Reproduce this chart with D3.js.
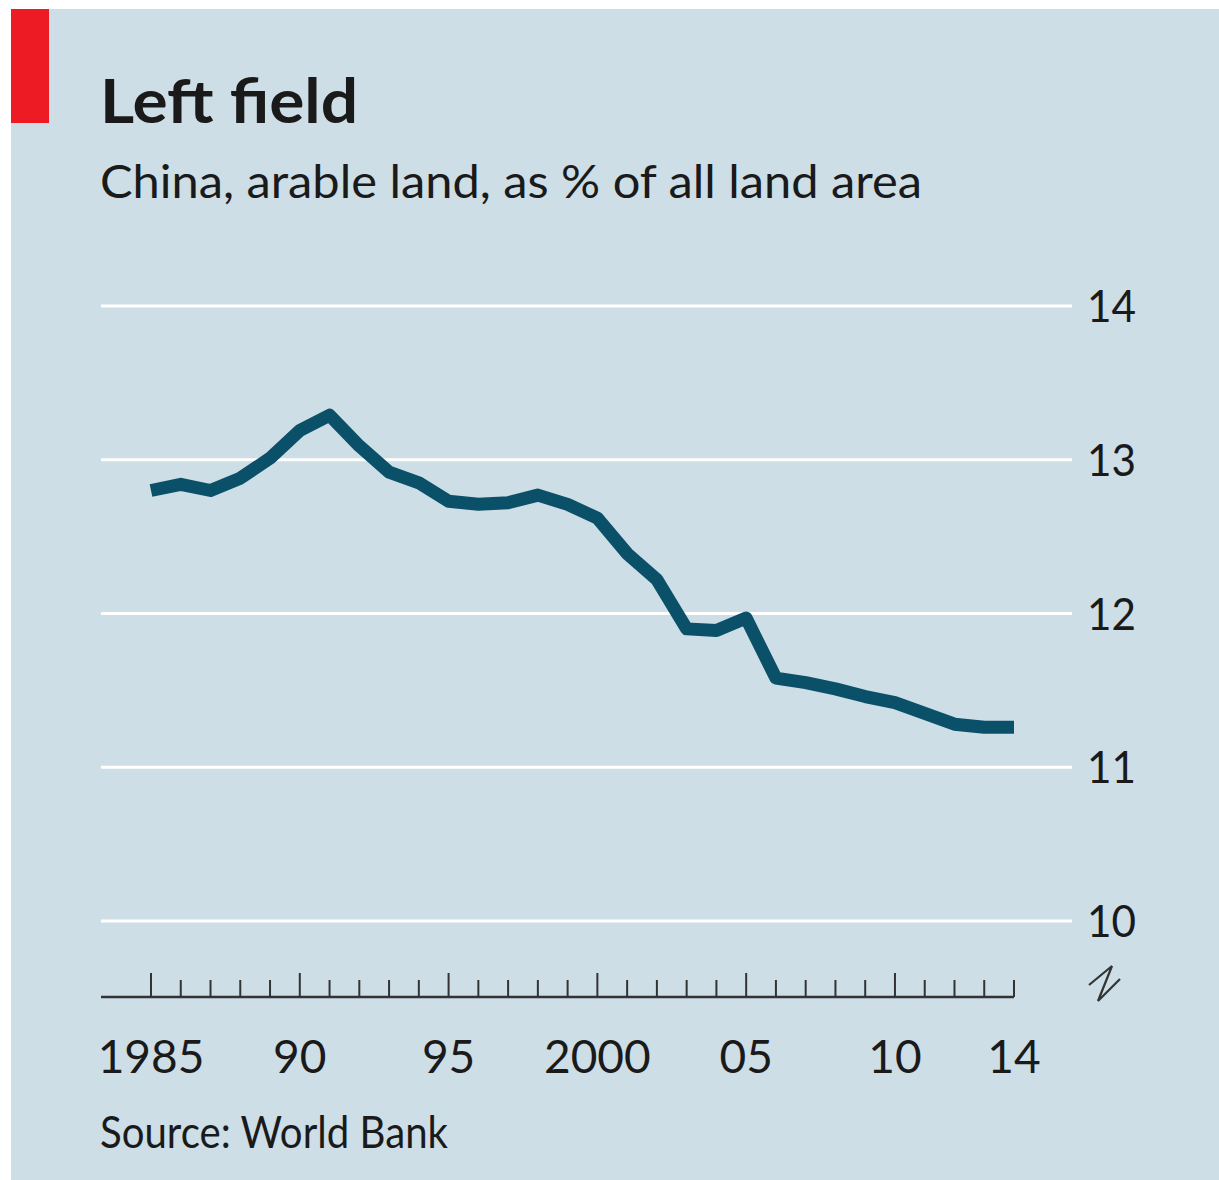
<!DOCTYPE html>
<html>
<head>
<meta charset="utf-8">
<script src="https://cdn.jsdelivr.net/npm/d3@7"></script>
<style>
	html, body { margin: 0; padding: 0; background: #ffffff; }
	svg text { font-family: Lato, "Noto Sans", sans-serif; fill: #1a1a1a; }
</style>
</head>
<body>
<div id="chart"></div>
<script>
	// arable land, % of all land area
	var years = [1985, 1986, 1987, 1988, 1989, 1990, 1991, 1992, 1993, 1994,
		1995, 1996, 1997, 1998, 1999, 2000, 2001, 2002, 2003, 2004,
		2005, 2006, 2007, 2008, 2009, 2010, 2011, 2012, 2013, 2014];
	var values = [12.80, 12.84, 12.80, 12.88, 13.01, 13.19, 13.29, 13.09, 12.92, 12.85,
		12.73, 12.71, 12.72, 12.77, 12.71, 12.62, 12.39, 12.22, 11.90, 11.89,
		11.97, 11.58, 11.55, 11.51, 11.46, 11.42, 11.35, 11.28, 11.26, 11.26];
	var yTicks = [10, 11, 12, 13, 14];
	var xLabelYears = [1985, 1990, 1995, 2000, 2005, 2010, 2014];
	var xLabels = ['1985', '90', '95', '2000', '05', '10', '14'];

	var title = 'Left field';
	var subtitle = 'China, arable land, as % of all land area';
	var source = 'Source: World Bank';

	var W = 1219, H = 1180;
	var margin = {top: 306, right: 205, bottom: 259, left: 151};

	var svg = d3.select('#chart')
		.append('svg')
		.attr('width', W)
		.attr('height', H);

	// panel
	svg.append('rect')
		.attr('x', 11).attr('y', 9)
		.attr('width', W - 11).attr('height', H - 9)
		.attr('fill', '#cddee7');
	svg.append('rect')
		.attr('x', 11).attr('y', 9)
		.attr('width', 38).attr('height', 114)
		.attr('fill', '#ed1c24');

	svg.append('text')
		.attr('x', 100).attr('y', 123)
		.style('font-size', '62px')
		.style('font-weight', 'bold')
		.attr('textLength', 258)
		.attr('lengthAdjust', 'spacingAndGlyphs')
		.text(title);
	svg.append('text')
		.attr('x', 100).attr('y', 198)
		.style('font-size', '47px')
		.attr('textLength', 822)
		.attr('lengthAdjust', 'spacingAndGlyphs')
		.text(subtitle);

	var x = d3.scaleLinear()
		.domain([1985, 2014])
		.range([margin.left, W - margin.right]);
	var y = d3.scaleLinear()
		.domain([10, 14])
		.range([921, 306]);

	// gridlines + right hand labels
	var grid = svg.append('g');
	grid.selectAll('line')
		.data(yTicks)
		.enter().append('line')
		.attr('x1', 101).attr('x2', 1072)
		.attr('y1', function (d) { return y(d); })
		.attr('y2', function (d) { return y(d); })
		.attr('stroke', '#ffffff')
		.attr('stroke-width', 3);
	grid.selectAll('text')
		.data(yTicks)
		.enter().append('text')
		.attr('x', 1087)
		.attr('y', function (d) { return y(d) + 16; })
		.style('font-size', '45px')
		.attr('textLength', 49)
		.attr('lengthAdjust', 'spacingAndGlyphs')
		.text(function (d) { return d; });

	// x axis: baseline with yearly ticks
	var axisY = 997;
	var xa = svg.append('g');
	xa.append('line')
		.attr('x1', 101).attr('x2', x(2014))
		.attr('y1', axisY).attr('y2', axisY)
		.attr('stroke', '#333333')
		.attr('stroke-width', 2.5);
	xa.selectAll('line.tick')
		.data(years)
		.enter().append('line')
		.attr('class', 'tick')
		.attr('x1', function (d) { return x(d); })
		.attr('x2', function (d) { return x(d); })
		.attr('y1', axisY)
		.attr('y2', function (d) { return (d % 5 === 0) ? axisY - 24 : axisY - 17; })
		.attr('stroke', '#333333')
		.attr('stroke-width', 2);
	xa.selectAll('text')
		.data(xLabelYears)
		.enter().append('text')
		.attr('x', function (d) { return x(d); })
		.attr('y', 1073)
		.attr('text-anchor', 'middle')
		.style('font-size', '46px')
		.text(function (d, i) { return xLabels[i]; });

	// axis break mark
	svg.append('path')
		.attr('d', 'M1089,985 L1112,966 L1098,1001 L1120,979')
		.attr('fill', 'none')
		.attr('stroke', '#333333')
		.attr('stroke-width', 2.2);

	var line = d3.line()
		.x(function (d, i) { return x(years[i]); })
		.y(function (d) { return y(d); });

	svg.append('path')
		.datum(values)
		.attr('fill', 'none')
		.attr('stroke', '#0b5069')
		.attr('stroke-width', 13)
		.attr('stroke-linejoin', 'round')
		.attr('stroke-linecap', 'butt')
		.attr('d', line);

	svg.append('text')
		.attr('x', 100).attr('y', 1148)
		.style('font-size', '44px')
		.attr('textLength', 348)
		.attr('lengthAdjust', 'spacingAndGlyphs')
		.text(source);
</script>
</body>
</html>
